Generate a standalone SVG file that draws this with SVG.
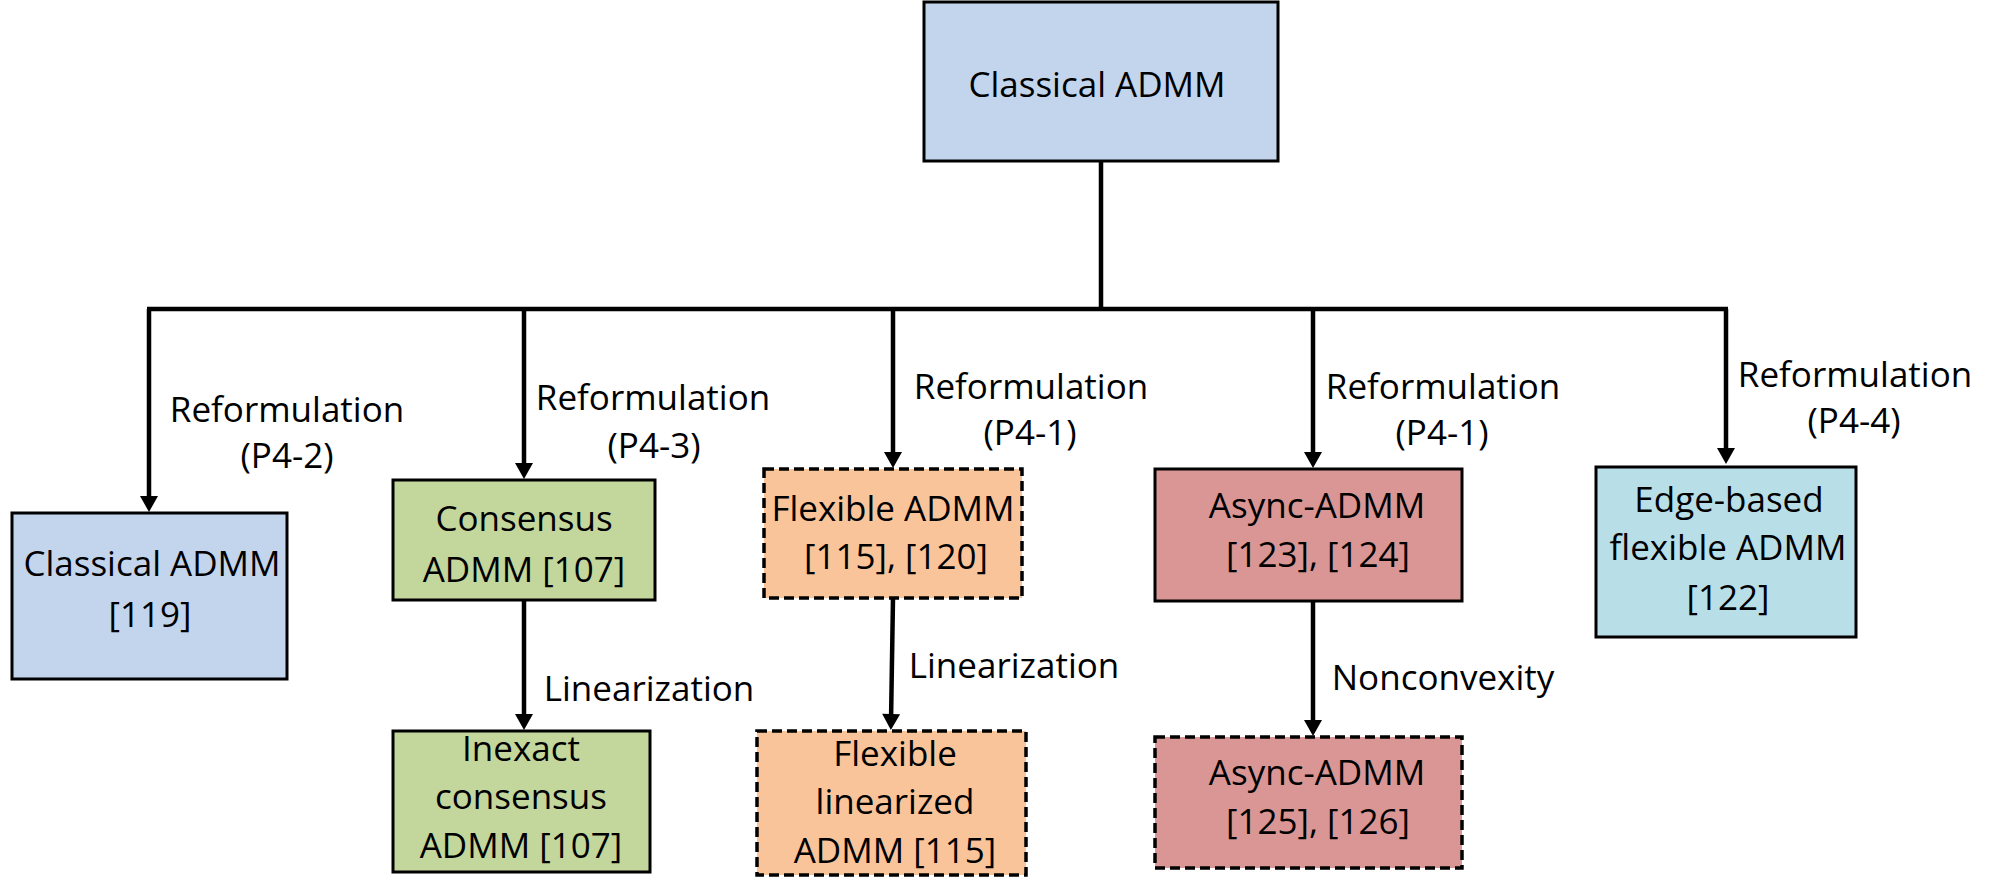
<svg xmlns="http://www.w3.org/2000/svg" width="2004" height="895" viewBox="0 0 2004 895">
<defs>
<marker id="arr" markerUnits="userSpaceOnUse" markerWidth="20" markerHeight="22" viewBox="0 -11 18 22" refX="8" refY="0" orient="auto">
<path d="M0,-9 L16,0 L0,9 z" fill="#000"/>
</marker>
</defs>
<style>
text{font-family:"Open Sans","Liberation Sans",sans-serif;font-size:35px;fill:#000;text-anchor:middle}
.box{stroke:#000;stroke-width:3}
.dash{stroke-width:3.5;stroke-dasharray:10 5}
.blue{fill:#C3D5ED}
.green{fill:#C3D69B}
.orange{fill:#F9C49A}
.red{fill:#D99694}
.aqua{fill:#B8DEE8}
.ln{fill:none;stroke:#000;stroke-width:4.5}
.arrow{fill:none;stroke:#000;stroke-width:4.5;marker-end:url(#arr)}
</style>
<rect width="2004" height="895" fill="#fff"/>
<g id="connectors">
<path class="ln" d="M1101,161 V309"/>
<path class="ln" d="M147,309 H1728"/>
<path class="arrow" d="M149,309 V504"/>
<path class="arrow" d="M524,309 V471"/>
<path class="arrow" d="M893,309 V460"/>
<path class="arrow" d="M1313,309 V460"/>
<path class="arrow" d="M1726,309 V456"/>
<path class="arrow" d="M524,600 V722"/>
<path class="arrow" d="M893,598 L891,722"/>
<path class="arrow" d="M1313,601 V728"/>
<text x="287" y="422">Reformulation</text>
<text x="287" y="468">(P4-2)</text>
<text x="653" y="410">Reformulation</text>
<text x="654" y="458">(P4-3)</text>
<text x="1031" y="399">Reformulation</text>
<text x="1030" y="445">(P4-1)</text>
<text x="1443" y="399">Reformulation</text>
<text x="1442" y="445">(P4-1)</text>
<text x="1855" y="387">Reformulation</text>
<text x="1854" y="433">(P4-4)</text>
<text x="649" y="701">Linearization</text>
<text x="1014" y="678">Linearization</text>
<text x="1443" y="690">Nonconvexity</text>
</g>
<g id="n-root">
<rect class="box blue" x="924" y="2" width="354" height="159"/>
<text x="1097" y="97">Classical ADMM</text>
</g>
<g id="n-classical">
<rect class="box blue" x="12" y="513" width="275" height="166"/>
<text x="152" y="576">Classical ADMM</text>
<text x="150" y="627">[119]</text>
</g>
<g id="n-consensus">
<rect class="box green" x="393" y="480" width="262" height="120"/>
<text x="524" y="531">Consensus</text>
<text x="524" y="582">ADMM [107]</text>
</g>
<g id="n-inexact">
<rect class="box green" x="393" y="731" width="257" height="141"/>
<text x="521" y="761">Inexact</text>
<text x="521" y="809">consensus</text>
<text x="521" y="858">ADMM [107]</text>
</g>
<g id="n-flexible">
<rect class="box orange dash" x="764" y="469" width="258" height="129"/>
<text x="893" y="521">Flexible ADMM</text>
<text x="896" y="569">[115], [120]</text>
</g>
<g id="n-flexlin">
<rect class="box orange dash" x="757" y="731" width="269" height="144"/>
<text x="895" y="766">Flexible</text>
<text x="895" y="814">linearized</text>
<text x="895" y="863">ADMM [115]</text>
</g>
<g id="n-async">
<rect class="box red" x="1155" y="469" width="307" height="132"/>
<text x="1317" y="518">Async-ADMM</text>
<text x="1318" y="567">[123], [124]</text>
</g>
<g id="n-async2">
<rect class="box red dash" x="1155" y="737" width="307" height="131"/>
<text x="1317" y="785">Async-ADMM</text>
<text x="1318" y="834">[125], [126]</text>
</g>
<g id="n-edge">
<rect class="box aqua" x="1596" y="467" width="260" height="170"/>
<text x="1729" y="512">Edge-based</text>
<text x="1728" y="560">flexible ADMM</text>
<text x="1728" y="610">[122]</text>
</g>
</svg>
